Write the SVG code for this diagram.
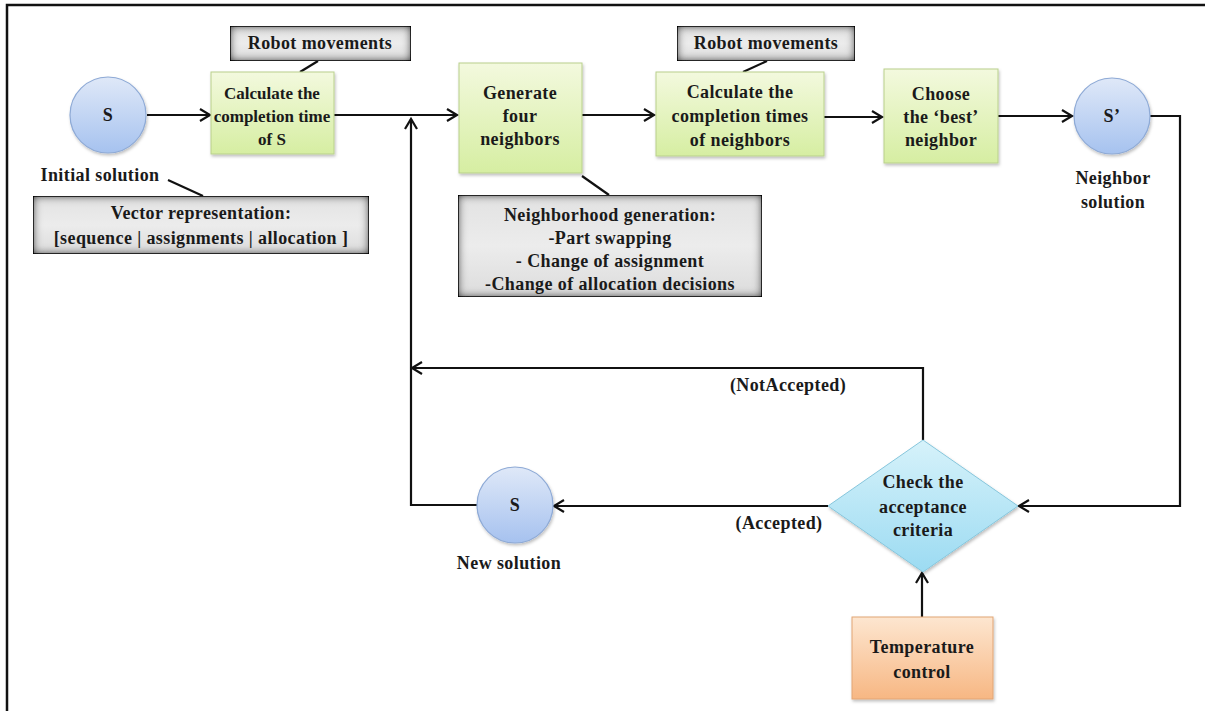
<svg xmlns="http://www.w3.org/2000/svg" width="1205" height="711" viewBox="0 0 1205 711">
<defs>
  <linearGradient id="gGreen" x1="0" y1="0" x2="0" y2="1">
    <stop offset="0" stop-color="#f3f9de"/>
    <stop offset="1" stop-color="#d6eea2"/>
  </linearGradient>
  <linearGradient id="gBlue" x1="0" y1="0" x2="0" y2="1">
    <stop offset="0" stop-color="#dfe8f8"/>
    <stop offset="1" stop-color="#a6c2ef"/>
  </linearGradient>
  <linearGradient id="gCyan" x1="0" y1="0" x2="0" y2="1">
    <stop offset="0" stop-color="#d6f2fa"/>
    <stop offset="1" stop-color="#9cdbf2"/>
  </linearGradient>
  <linearGradient id="gOrange" x1="0" y1="0" x2="0" y2="1">
    <stop offset="0" stop-color="#fde6d0"/>
    <stop offset="1" stop-color="#f7b783"/>
  </linearGradient>
  <linearGradient id="gGray" x1="0" y1="0" x2="0" y2="1">
    <stop offset="0" stop-color="#e2e2e2"/>
    <stop offset="0.5" stop-color="#ececec"/>
    <stop offset="1" stop-color="#dcdcdc"/>
  </linearGradient>
  <filter id="inset" x="0" y="0" width="1" height="1">
    <feGaussianBlur in="SourceAlpha" stdDeviation="5" result="blur"/>
    <feComposite in="SourceAlpha" in2="blur" operator="arithmetic" k2="1" k3="-1" result="inner"/>
    <feFlood flood-color="#000" flood-opacity="0.95"/>
    <feComposite in2="inner" operator="in" result="shadow"/>
    <feMerge><feMergeNode in="SourceGraphic"/><feMergeNode in="shadow"/><feMergeNode in="shadow"/></feMerge>
  </filter>
  <filter id="shadow" x="-10%" y="-10%" width="130%" height="130%">
    <feDropShadow dx="1" dy="2" stdDeviation="1.5" flood-color="#000" flood-opacity="0.25"/>
  </filter>
  <marker id="arr" markerUnits="userSpaceOnUse" markerWidth="14" markerHeight="16" refX="11" refY="7" orient="auto" viewBox="0 0 14 16">
    <path d="M1,1 L11,7 L1,13" fill="none" stroke="#111" stroke-width="2.2"/>
  </marker>
</defs>
<style>
  .t { font-family: 'Liberation Serif', 'DejaVu Serif', serif; font-weight: 700; font-size: 18px; fill: #1a1a1a; text-anchor: middle; letter-spacing: 0.4px; }
  .sm { font-size: 17px; letter-spacing: 0; }
  .green { fill: url(#gGreen); stroke: #b9d08c; stroke-width: 1; filter: url(#shadow); }
  .blue { fill: url(#gBlue); stroke: #8eaad6; stroke-width: 1.2; filter: url(#shadow); }
  .gray { fill: url(#gGray); stroke: #111; stroke-width: 1.5; filter: url(#inset); }
  .cyan { fill: url(#gCyan); stroke: #86c6dc; stroke-width: 1; filter: url(#shadow); }
  .orange { fill: url(#gOrange); stroke: #e2a574; stroke-width: 1; filter: url(#shadow); }
  .ln { fill: none; stroke: #111; stroke-width: 2.2; }
  .arrow { fill: none; stroke: #111; stroke-width: 2.2; marker-end: url(#arr); }
</style>

<path d="M7,711 V5 H1205" fill="none" stroke="#111" stroke-width="2.5"/>

<g id="connectors">
  <line class="arrow" x1="147" y1="115" x2="210" y2="115"/>
  <line class="arrow" x1="334" y1="115" x2="457" y2="115"/>
  <path class="arrow" d="M477,505 H411 V119"/>
  <line class="arrow" x1="582" y1="115" x2="654" y2="115"/>
  <line class="arrow" x1="824" y1="117" x2="882" y2="117"/>
  <line class="arrow" x1="998" y1="116" x2="1072" y2="116"/>
  <path class="arrow" d="M1150,116 H1180 V506 H1019"/>
  <path class="arrow" d="M923,440 V368 H412"/>
  <line class="arrow" x1="828" y1="506" x2="554" y2="506"/>
  <line class="arrow" x1="922" y1="617" x2="922" y2="573"/>
  <line class="ln" x1="318" y1="61" x2="300" y2="72"/>
  <line class="ln" x1="767" y1="61" x2="743" y2="72"/>
  <line class="ln" x1="168" y1="180" x2="203" y2="196"/>
  <line class="ln" x1="582" y1="176" x2="609" y2="195"/>
</g>

<g id="initial-s">
  <circle class="blue" cx="108" cy="115" r="38"/>
  <text class="t" x="108" y="121" font-size="16">S</text>
  <text class="t" x="100" y="181">Initial solution</text>
</g>

<g id="vector-box">
  <rect class="gray" x="33" y="196" width="336" height="58"/>
  <text class="t" x="201" y="219">Vector representation:</text>
  <text class="t" x="201" y="244" letter-spacing="0.8">[sequence | assignments | allocation ]</text>
</g>

<g id="robot-1">
  <rect class="gray" x="230" y="26" width="181" height="35"/>
  <text class="t" x="320" y="49">Robot movements</text>
</g>

<g id="calc-1">
  <rect class="green" x="211" y="72" width="123" height="82"/>
  <text class="t sm" x="272" y="99">Calculate the</text>
  <text class="t sm" x="272" y="122">completion time</text>
  <text class="t sm" x="272" y="145">of S</text>
</g>

<g id="generate">
  <rect class="green" x="459" y="63" width="123" height="110"/>
  <text class="t" x="520" y="99">Generate</text>
  <text class="t" x="520" y="122">four</text>
  <text class="t" x="520" y="145">neighbors</text>
</g>

<g id="neighborhood-box">
  <rect class="gray" x="458" y="195" width="304" height="102"/>
  <text class="t" x="610" y="221">Neighborhood generation:</text>
  <text class="t" x="610" y="244">-Part swapping</text>
  <text class="t" x="610" y="267">- Change of assignment</text>
  <text class="t" x="610" y="290">-Change of allocation decisions</text>
</g>

<g id="robot-2">
  <rect class="gray" x="677" y="26" width="178" height="35"/>
  <text class="t" x="766" y="49">Robot movements</text>
</g>

<g id="calc-2">
  <rect class="green" x="656" y="72" width="168" height="84"/>
  <text class="t" x="740" y="98">Calculate the</text>
  <text class="t" x="740" y="122" letter-spacing="0.8">completion times</text>
  <text class="t" x="740" y="146">of neighbors</text>
</g>

<g id="choose">
  <rect class="green" x="884" y="69" width="114" height="94"/>
  <text class="t" x="941" y="100">Choose</text>
  <text class="t" x="941" y="123">the ‘best’</text>
  <text class="t" x="941" y="146">neighbor</text>
</g>

<g id="neighbor-s">
  <circle class="blue" cx="1112" cy="116" r="38"/>
  <text class="t" x="1112" y="122" font-size="16">S’</text>
  <text class="t" x="1113" y="184">Neighbor</text>
  <text class="t" x="1113" y="208">solution</text>
</g>

<g id="check">
  <polygon class="cyan" points="923,440 1018,506 923,572 828,506"/>
  <text class="t" x="923" y="488">Check the</text>
  <text class="t" x="923" y="513">acceptance</text>
  <text class="t" x="923" y="536">criteria</text>
</g>

<g id="temperature">
  <rect class="orange" x="852" y="617" width="141" height="82"/>
  <text class="t" x="922" y="653">Temperature</text>
  <text class="t" x="922" y="678">control</text>
</g>

<g id="new-s">
  <circle class="blue" cx="515" cy="505" r="38"/>
  <text class="t" x="515" y="511" font-size="16">S</text>
  <text class="t" x="509" y="569">New solution</text>
</g>

<g id="labels">
  <text class="t" x="788" y="391">(NotAccepted)</text>
  <text class="t" x="779" y="529">(Accepted)</text>
</g>
</svg>
